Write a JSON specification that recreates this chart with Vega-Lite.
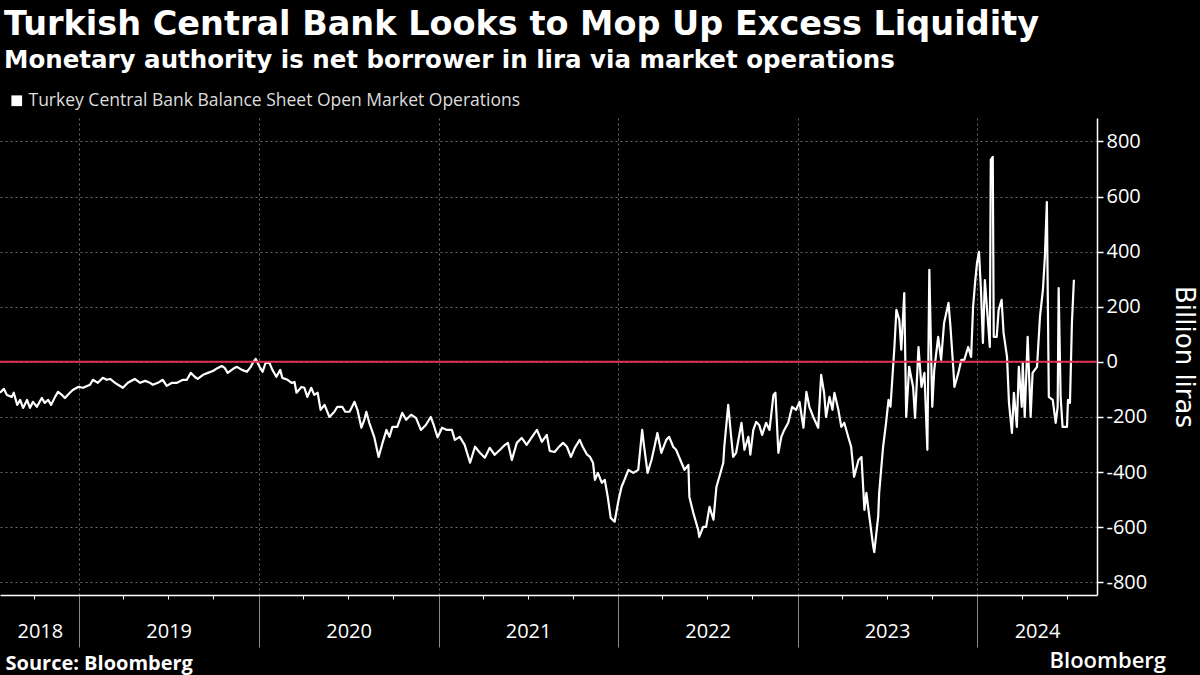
{
  "$schema": "https://vega.github.io/schema/vega-lite/v6.json",
  "width": 1097,
  "height": 477,
  "autosize": {"type": "none"},
  "padding": {"left": 0, "right": 103, "top": 118, "bottom": 80},
  "background": "#000000",
  "title": {
    "text": "Turkish Central Bank Looks to Mop Up Excess Liquidity",
    "subtitle": "Monetary authority is net borrower in lira via market operations",
    "anchor": "start",
    "frame": "group",
    "dx": 4,
    "offset": 19,
    "font": "DejaVu Sans",
    "fontSize": 33.5,
    "fontWeight": "bold",
    "color": "#ffffff",
    "subtitleFont": "DejaVu Sans",
    "subtitleFontSize": 24.5,
    "subtitleFontWeight": "bold",
    "subtitleColor": "#ffffff",
    "subtitlePadding": 6
  },
  "config": {"view": {"stroke": null}, "font": "Open Sans"},
  "data": {"values": [
    {"d": "2018-07-24", "v": -112}, {"d": "2018-08-01", "v": -98}, {"d": "2018-08-07", "v": -120}, {"d": "2018-08-17", "v": -127},
    {"d": "2018-08-21", "v": -112}, {"d": "2018-08-28", "v": -156}, {"d": "2018-09-03", "v": -138}, {"d": "2018-09-09", "v": -167},
    {"d": "2018-09-17", "v": -138}, {"d": "2018-09-23", "v": -167}, {"d": "2018-09-29", "v": -145}, {"d": "2018-10-07", "v": -163},
    {"d": "2018-10-17", "v": -131}, {"d": "2018-10-23", "v": -149}, {"d": "2018-10-30", "v": -138}, {"d": "2018-11-05", "v": -156},
    {"d": "2018-11-13", "v": -127}, {"d": "2018-11-19", "v": -109}, {"d": "2018-11-27", "v": -120}, {"d": "2018-12-03", "v": -131},
    {"d": "2018-12-13", "v": -112}, {"d": "2018-12-19", "v": -102}, {"d": "2018-12-30", "v": -91}, {"d": "2019-01-09", "v": -94},
    {"d": "2019-01-23", "v": -83}, {"d": "2019-01-29", "v": -65}, {"d": "2019-02-08", "v": -76}, {"d": "2019-02-18", "v": -58},
    {"d": "2019-02-26", "v": -65}, {"d": "2019-03-05", "v": -62}, {"d": "2019-03-15", "v": -76}, {"d": "2019-03-21", "v": -83},
    {"d": "2019-03-31", "v": -94}, {"d": "2019-04-10", "v": -76}, {"d": "2019-04-24", "v": -62}, {"d": "2019-05-05", "v": -76},
    {"d": "2019-05-15", "v": -69}, {"d": "2019-05-25", "v": -76}, {"d": "2019-05-31", "v": -83}, {"d": "2019-06-10", "v": -76},
    {"d": "2019-06-20", "v": -65}, {"d": "2019-06-28", "v": -87}, {"d": "2019-07-09", "v": -76}, {"d": "2019-07-19", "v": -76},
    {"d": "2019-07-31", "v": -65}, {"d": "2019-08-08", "v": -65}, {"d": "2019-08-16", "v": -40}, {"d": "2019-08-24", "v": -54},
    {"d": "2019-08-30", "v": -62}, {"d": "2019-09-10", "v": -47}, {"d": "2019-09-20", "v": -40}, {"d": "2019-09-30", "v": -33},
    {"d": "2019-10-10", "v": -22}, {"d": "2019-10-18", "v": -15}, {"d": "2019-10-24", "v": -22}, {"d": "2019-10-30", "v": -40},
    {"d": "2019-11-10", "v": -25}, {"d": "2019-11-18", "v": -18}, {"d": "2019-11-28", "v": -29}, {"d": "2019-12-08", "v": -36},
    {"d": "2019-12-16", "v": -18}, {"d": "2019-12-20", "v": -4}, {"d": "2019-12-26", "v": 11}, {"d": "2019-12-30", "v": -4},
    {"d": "2020-01-03", "v": -18}, {"d": "2020-01-09", "v": -36}, {"d": "2020-01-15", "v": -4}, {"d": "2020-01-23", "v": -4},
    {"d": "2020-01-29", "v": -29}, {"d": "2020-02-06", "v": -54}, {"d": "2020-02-14", "v": -29}, {"d": "2020-02-18", "v": -58},
    {"d": "2020-02-29", "v": -65}, {"d": "2020-03-08", "v": -76}, {"d": "2020-03-14", "v": -73}, {"d": "2020-03-18", "v": -112},
    {"d": "2020-03-28", "v": -91}, {"d": "2020-04-03", "v": -94}, {"d": "2020-04-09", "v": -127}, {"d": "2020-04-17", "v": -94},
    {"d": "2020-04-23", "v": -120}, {"d": "2020-04-30", "v": -112}, {"d": "2020-05-06", "v": -174}, {"d": "2020-05-14", "v": -156},
    {"d": "2020-05-24", "v": -200}, {"d": "2020-06-03", "v": -181}, {"d": "2020-06-09", "v": -163}, {"d": "2020-06-19", "v": -163},
    {"d": "2020-06-25", "v": -181}, {"d": "2020-07-04", "v": -181}, {"d": "2020-07-14", "v": -145}, {"d": "2020-07-20", "v": -174},
    {"d": "2020-07-28", "v": -239}, {"d": "2020-08-03", "v": -210}, {"d": "2020-08-07", "v": -181}, {"d": "2020-08-13", "v": -221},
    {"d": "2020-08-23", "v": -272}, {"d": "2020-09-01", "v": -345}, {"d": "2020-09-09", "v": -294}, {"d": "2020-09-17", "v": -247},
    {"d": "2020-09-23", "v": -272}, {"d": "2020-09-29", "v": -236}, {"d": "2020-10-09", "v": -236}, {"d": "2020-10-19", "v": -185},
    {"d": "2020-10-27", "v": -210}, {"d": "2020-11-06", "v": -192}, {"d": "2020-11-16", "v": -203}, {"d": "2020-11-26", "v": -247},
    {"d": "2020-12-06", "v": -229}, {"d": "2020-12-16", "v": -200}, {"d": "2020-12-22", "v": -229}, {"d": "2020-12-30", "v": -274},
    {"d": "2021-01-08", "v": -239}, {"d": "2021-01-18", "v": -247}, {"d": "2021-01-28", "v": -247}, {"d": "2021-02-03", "v": -283},
    {"d": "2021-02-13", "v": -272}, {"d": "2021-02-23", "v": -301}, {"d": "2021-03-06", "v": -366}, {"d": "2021-03-16", "v": -308},
    {"d": "2021-03-26", "v": -330}, {"d": "2021-04-05", "v": -348}, {"d": "2021-04-15", "v": -312}, {"d": "2021-04-25", "v": -337},
    {"d": "2021-05-06", "v": -319}, {"d": "2021-05-16", "v": -301}, {"d": "2021-05-22", "v": -294}, {"d": "2021-05-30", "v": -356},
    {"d": "2021-06-09", "v": -294}, {"d": "2021-06-19", "v": -276}, {"d": "2021-06-29", "v": -301}, {"d": "2021-07-10", "v": -272},
    {"d": "2021-07-20", "v": -247}, {"d": "2021-07-30", "v": -290}, {"d": "2021-08-09", "v": -265}, {"d": "2021-08-15", "v": -323},
    {"d": "2021-08-25", "v": -327}, {"d": "2021-09-01", "v": -312}, {"d": "2021-09-11", "v": -294}, {"d": "2021-09-19", "v": -308},
    {"d": "2021-09-27", "v": -345}, {"d": "2021-10-05", "v": -312}, {"d": "2021-10-15", "v": -283}, {"d": "2021-10-21", "v": -308},
    {"d": "2021-10-30", "v": -337}, {"d": "2021-11-05", "v": -345}, {"d": "2021-11-11", "v": -366}, {"d": "2021-11-15", "v": -428},
    {"d": "2021-11-21", "v": -403}, {"d": "2021-11-29", "v": -439}, {"d": "2021-12-05", "v": -428}, {"d": "2021-12-11", "v": -490},
    {"d": "2021-12-17", "v": -566}, {"d": "2021-12-25", "v": -580}, {"d": "2022-01-02", "v": -501}, {"d": "2022-01-08", "v": -454},
    {"d": "2022-01-14", "v": -428}, {"d": "2022-01-22", "v": -392}, {"d": "2022-02-01", "v": -403}, {"d": "2022-02-11", "v": -392},
    {"d": "2022-02-15", "v": -319}, {"d": "2022-02-19", "v": -247}, {"d": "2022-02-23", "v": -308}, {"d": "2022-03-02", "v": -403},
    {"d": "2022-03-10", "v": -356}, {"d": "2022-03-16", "v": -308}, {"d": "2022-03-22", "v": -258}, {"d": "2022-03-30", "v": -330},
    {"d": "2022-04-09", "v": -283}, {"d": "2022-04-15", "v": -272}, {"d": "2022-04-23", "v": -308}, {"d": "2022-04-29", "v": -319},
    {"d": "2022-05-10", "v": -366}, {"d": "2022-05-16", "v": -392}, {"d": "2022-05-24", "v": -374}, {"d": "2022-05-26", "v": -490},
    {"d": "2022-06-03", "v": -548}, {"d": "2022-06-13", "v": -610}, {"d": "2022-06-15", "v": -635}, {"d": "2022-06-23", "v": -599},
    {"d": "2022-06-29", "v": -599}, {"d": "2022-07-06", "v": -526}, {"d": "2022-07-14", "v": -573}, {"d": "2022-07-20", "v": -454},
    {"d": "2022-07-26", "v": -417}, {"d": "2022-08-03", "v": -366}, {"d": "2022-08-05", "v": -308}, {"d": "2022-08-13", "v": -156},
    {"d": "2022-08-19", "v": -272}, {"d": "2022-08-23", "v": -345}, {"d": "2022-08-29", "v": -330}, {"d": "2022-09-09", "v": -221},
    {"d": "2022-09-15", "v": -319}, {"d": "2022-09-23", "v": -272}, {"d": "2022-09-27", "v": -337}, {"d": "2022-10-03", "v": -247},
    {"d": "2022-10-09", "v": -218}, {"d": "2022-10-15", "v": -229}, {"d": "2022-10-21", "v": -265}, {"d": "2022-10-29", "v": -221},
    {"d": "2022-11-05", "v": -247}, {"d": "2022-11-13", "v": -120}, {"d": "2022-11-17", "v": -112}, {"d": "2022-11-23", "v": -330},
    {"d": "2022-11-29", "v": -272}, {"d": "2022-12-05", "v": -247}, {"d": "2022-12-13", "v": -221}, {"d": "2022-12-21", "v": -163},
    {"d": "2022-12-29", "v": -174}, {"d": "2023-01-05", "v": -145}, {"d": "2023-01-13", "v": -239}, {"d": "2023-01-19", "v": -109},
    {"d": "2023-01-25", "v": -163}, {"d": "2023-02-02", "v": -200}, {"d": "2023-02-12", "v": -239}, {"d": "2023-02-18", "v": -47},
    {"d": "2023-02-24", "v": -112}, {"d": "2023-02-28", "v": -200}, {"d": "2023-03-07", "v": -127}, {"d": "2023-03-13", "v": -174},
    {"d": "2023-03-17", "v": -112}, {"d": "2023-03-25", "v": -174}, {"d": "2023-03-31", "v": -236}, {"d": "2023-04-06", "v": -221},
    {"d": "2023-04-14", "v": -272}, {"d": "2023-04-20", "v": -308}, {"d": "2023-04-26", "v": -417}, {"d": "2023-05-05", "v": -356},
    {"d": "2023-05-11", "v": -345}, {"d": "2023-05-17", "v": -537}, {"d": "2023-05-21", "v": -475}, {"d": "2023-05-27", "v": -562},
    {"d": "2023-06-04", "v": -671}, {"d": "2023-06-06", "v": -690}, {"d": "2023-06-14", "v": -562}, {"d": "2023-06-16", "v": -475},
    {"d": "2023-06-24", "v": -308}, {"d": "2023-06-30", "v": -221}, {"d": "2023-07-05", "v": -138}, {"d": "2023-07-09", "v": -163},
    {"d": "2023-07-17", "v": 54}, {"d": "2023-07-21", "v": 189}, {"d": "2023-07-27", "v": 152}, {"d": "2023-07-31", "v": 44},
    {"d": "2023-08-06", "v": 250}, {"d": "2023-08-10", "v": -200}, {"d": "2023-08-16", "v": -18}, {"d": "2023-08-24", "v": -91},
    {"d": "2023-08-28", "v": -203}, {"d": "2023-09-04", "v": 54}, {"d": "2023-09-10", "v": -91}, {"d": "2023-09-16", "v": -40},
    {"d": "2023-09-22", "v": -319}, {"d": "2023-09-26", "v": 334}, {"d": "2023-10-02", "v": -163}, {"d": "2023-10-06", "v": -29},
    {"d": "2023-10-14", "v": 91}, {"d": "2023-10-20", "v": 7}, {"d": "2023-10-26", "v": 141}, {"d": "2023-11-04", "v": 214},
    {"d": "2023-11-08", "v": 127}, {"d": "2023-11-14", "v": -29}, {"d": "2023-11-16", "v": -91}, {"d": "2023-11-24", "v": -40},
    {"d": "2023-11-30", "v": 7}, {"d": "2023-12-06", "v": 7}, {"d": "2023-12-14", "v": 54}, {"d": "2023-12-20", "v": 18},
    {"d": "2023-12-24", "v": 200}, {"d": "2023-12-28", "v": 287}, {"d": "2024-01-01", "v": 359}, {"d": "2024-01-05", "v": 399},
    {"d": "2024-01-09", "v": 261}, {"d": "2024-01-13", "v": 69}, {"d": "2024-01-17", "v": 297}, {"d": "2024-01-23", "v": 152},
    {"d": "2024-01-27", "v": 54}, {"d": "2024-01-29", "v": 733}, {"d": "2024-02-02", "v": 744}, {"d": "2024-02-04", "v": 91},
    {"d": "2024-02-10", "v": 91}, {"d": "2024-02-14", "v": 189}, {"d": "2024-02-20", "v": 225}, {"d": "2024-02-24", "v": 105},
    {"d": "2024-03-02", "v": 18}, {"d": "2024-03-06", "v": -149}, {"d": "2024-03-12", "v": -258}, {"d": "2024-03-16", "v": -112},
    {"d": "2024-03-22", "v": -236}, {"d": "2024-03-26", "v": -18}, {"d": "2024-04-01", "v": -163}, {"d": "2024-04-03", "v": -4},
    {"d": "2024-04-07", "v": -200}, {"d": "2024-04-13", "v": 91}, {"d": "2024-04-19", "v": -200}, {"d": "2024-04-23", "v": -40},
    {"d": "2024-05-02", "v": -18}, {"d": "2024-05-08", "v": 163}, {"d": "2024-05-14", "v": 261}, {"d": "2024-05-18", "v": 381},
    {"d": "2024-05-22", "v": 580}, {"d": "2024-05-26", "v": -127}, {"d": "2024-06-03", "v": -138}, {"d": "2024-06-09", "v": -221},
    {"d": "2024-06-13", "v": -163}, {"d": "2024-06-15", "v": 268}, {"d": "2024-06-19", "v": -127}, {"d": "2024-06-23", "v": -236},
    {"d": "2024-07-02", "v": -236}, {"d": "2024-07-04", "v": -138}, {"d": "2024-07-08", "v": -149}, {"d": "2024-07-12", "v": 141},
    {"d": "2024-07-16", "v": 298}
  ]},
  "layer": [
    {
      "mark": {"type": "line", "color": "#ffffff", "strokeWidth": 2.2, "strokeJoin": "round"},
      "encoding": {
        "x": {
          "field": "d", "type": "temporal",
          "scale": {"type": "utc", "domain": [{"year": 2018, "month": 7, "date": 24, "utc": true}, {"year": 2024, "month": 9, "date": 1, "utc": true}]},
          "axis": {
            "orient": "bottom",
            "values": [
              {"year": 2019, "month": 1, "date": 1, "utc": true}, {"year": 2020, "month": 1, "date": 1, "utc": true},
              {"year": 2021, "month": 1, "date": 1, "utc": true}, {"year": 2022, "month": 1, "date": 1, "utc": true},
              {"year": 2023, "month": 1, "date": 1, "utc": true}, {"year": 2024, "month": 1, "date": 1, "utc": true}
            ],
            "labels": false, "title": null,
            "grid": true, "gridColor": "#6a6a6a", "gridDash": [2, 3], "gridWidth": 1,
            "ticks": true, "tickSize": 52, "tickColor": "#8a8a8a", "tickWidth": 1,
            "domain": true, "domainColor": "#ffffff", "domainWidth": 1.5
          }
        },
        "y": {
          "field": "v", "type": "quantitative",
          "scale": {"domain": [-846, 885], "nice": false, "zero": false},
          "axis": {
            "orient": "right",
            "values": [-800, -700, -600, -500, -400, -300, -200, -100, 0, 100, 200, 300, 400, 500, 600, 700, 800],
            "labelExpr": "datum.value % 200 == 0 ? '' + datum.value : ''",
            "grid": true, "gridColor": "#6a6a6a", "gridDash": [2, 3], "gridWidth": 1,
            "gridOpacity": {"condition": {"test": "datum.value % 200 == 0", "value": 1}, "value": 0},
            "domain": true, "domainColor": "#ffffff", "domainWidth": 1.5,
            "ticks": true, "tickColor": "#ffffff", "tickSize": 6, "tickWidth": 1.5,
            "labelColor": "#ffffff", "labelFont": "Open Sans", "labelFontSize": 20, "labelPadding": 3,
            "title": "Billion liras", "titleAngle": 90, "titleColor": "#ffffff", "titleFont": "DejaVu Sans",
            "titleFontSize": 26, "titleFontWeight": "normal", "titlePadding": 24
          }
        },
        "color": {
          "datum": "Turkey Central Bank Balance Sheet Open Market Operations",
          "scale": {"range": ["#ffffff"]},
          "legend": {
            "orient": "none", "legendX": 8, "legendY": -26, "title": null,
            "symbolType": "square", "symbolSize": 115, "symbolFillColor": "#ffffff", "symbolStrokeWidth": 0,
            "labelColor": "#dddddd", "labelFont": "Open Sans", "labelFontSize": 17.5, "labelOffset": 3, "labelLimit": 0
          }
        }
      }
    },
    {
      "data": {"values": [{}]},
      "mark": {"type": "rule", "color": "#e0304e", "strokeWidth": 2},
      "encoding": {"y": {"datum": 0, "type": "quantitative"}}
    },
    {
      "mark": {"type": "point", "opacity": 0},
      "encoding": {
        "x": {
          "field": "d", "type": "temporal",
          "axis": {
            "orient": "bottom",
            "values": [
              {"year": 2018, "month": 10, "date": 1, "utc": true},
              {"year": 2019, "month": 4, "date": 1, "utc": true}, {"year": 2019, "month": 7, "date": 1, "utc": true}, {"year": 2019, "month": 10, "date": 1, "utc": true},
              {"year": 2020, "month": 4, "date": 1, "utc": true}, {"year": 2020, "month": 7, "date": 1, "utc": true}, {"year": 2020, "month": 10, "date": 1, "utc": true},
              {"year": 2021, "month": 4, "date": 1, "utc": true}, {"year": 2021, "month": 7, "date": 1, "utc": true}, {"year": 2021, "month": 10, "date": 1, "utc": true},
              {"year": 2022, "month": 4, "date": 1, "utc": true}, {"year": 2022, "month": 7, "date": 1, "utc": true}, {"year": 2022, "month": 10, "date": 1, "utc": true},
              {"year": 2023, "month": 4, "date": 1, "utc": true}, {"year": 2023, "month": 7, "date": 1, "utc": true}, {"year": 2023, "month": 10, "date": 1, "utc": true},
              {"year": 2024, "month": 4, "date": 1, "utc": true}, {"year": 2024, "month": 7, "date": 1, "utc": true}
            ],
            "labels": false, "grid": false, "domain": false,
            "ticks": true, "tickSize": 4, "tickColor": "#ffffff", "tickWidth": 1,
            "title": "Bloomberg", "titleX": 1049, "titleY": 72, "titleAlign": "left", "titleAnchor": "start",
            "titleBaseline": "alphabetic", "titleColor": "#ffffff", "titleFont": "Open Sans", "titleFontSize": 22, "titleFontWeight": 600
          }
        },
        "y": {"field": "v", "type": "quantitative"}
      }
    },
    {
      "mark": {"type": "point", "opacity": 0},
      "encoding": {
        "x": {
          "field": "d", "type": "temporal",
          "axis": {
            "orient": "bottom",
            "values": [
              {"year": 2018, "month": 10, "date": 13, "utc": true}, {"year": 2019, "month": 7, "date": 2, "utc": true},
              {"year": 2020, "month": 7, "date": 2, "utc": true}, {"year": 2021, "month": 7, "date": 2, "utc": true},
              {"year": 2022, "month": 7, "date": 2, "utc": true}, {"year": 2023, "month": 7, "date": 2, "utc": true},
              {"year": 2024, "month": 5, "date": 2, "utc": true}
            ],
            "labelExpr": "utcFormat(datum.value, '%Y')",
            "labelColor": "#ffffff", "labelFont": "Open Sans", "labelFontSize": 20, "labelPadding": 26,
            "labelOverlap": false, "labelFlush": false,
            "grid": false, "domain": false, "ticks": false,
            "title": "Source: Bloomberg", "titleX": 5, "titleY": 74, "titleAlign": "left", "titleAnchor": "start",
            "titleBaseline": "alphabetic", "titleColor": "#ffffff", "titleFont": "Open Sans", "titleFontSize": 20, "titleFontWeight": "bold"
          }
        },
        "y": {"field": "v", "type": "quantitative"}
      }
    }
  ],
  "resolve": {"axis": {"x": "independent", "y": "shared"}}
}
